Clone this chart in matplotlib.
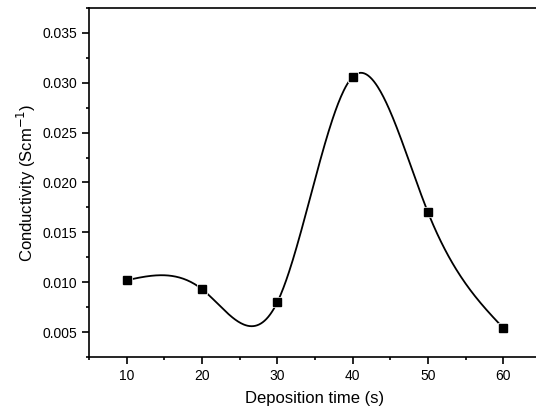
import numpy as np
import matplotlib
matplotlib.use('Agg')
import matplotlib.pyplot as plt
from matplotlib.ticker import MultipleLocator

plt.rcParams['font.family'] = ['Liberation Sans', 'DejaVu Sans']

# data
time_s = [10, 20, 30, 40, 50, 60]
conductivity = [0.0102, 0.0093, 0.0080, 0.0306, 0.0170, 0.0054]

# natural cubic spline through the points (Origin-style spline connection)
def natural_spline(x, y, xs):
  x = np.asarray(x, float)
  y = np.asarray(y, float)
  n = len(x)
  h = np.diff(x)
  A = np.zeros((n, n))
  b = np.zeros(n)
  A[0, 0] = 1
  A[-1, -1] = 1
  for i in range(1, n - 1):
    A[i, i - 1] = h[i - 1]
    A[i, i] = 2 * (h[i - 1] + h[i])
    A[i, i + 1] = h[i]
    b[i] = 3 * ((y[i + 1] - y[i]) / h[i] - (y[i] - y[i - 1]) / h[i - 1])
  c = np.linalg.solve(A, b)
  out = np.empty_like(xs)
  for k, xv in enumerate(xs):
    i = min(max(np.searchsorted(x, xv) - 1, 0), n - 2)
    dx = xv - x[i]
    bi = (y[i + 1] - y[i]) / h[i] - h[i] * (2 * c[i] + c[i + 1]) / 3
    di = (c[i + 1] - c[i]) / (3 * h[i])
    out[k] = y[i] + bi * dx + c[i] * dx ** 2 + di * dx ** 3
  return out

xs = np.linspace(time_s[0], time_s[-1], 400)
ys = natural_spline(time_s, conductivity, xs)

fig = plt.figure(figsize=(5.36, 4.12), dpi=100)
ax = fig.add_axes([89 / 536, 1 - 357 / 412, 452 / 536, 349 / 412])

ax.plot(xs, ys, color='black', lw=1.3, zorder=2)
ax.plot(time_s, conductivity, ls='none', marker='s', ms=6, mfc='black',
        mec='white', mew=2.0, zorder=3)
ax.plot(time_s, conductivity, ls='none', marker='s', ms=5.5, color='black', zorder=4)

ax.set_xlim(5, 65)
ax.set_ylim(0.0025, 0.0375)
ax.xaxis.set_major_locator(MultipleLocator(10))
ax.xaxis.set_minor_locator(MultipleLocator(5))
ax.yaxis.set_major_locator(MultipleLocator(0.005))
ax.yaxis.set_minor_locator(MultipleLocator(0.0025))
ax.yaxis.set_major_formatter(matplotlib.ticker.FormatStrFormatter('%.3f'))

ax.spines['right'].set_visible(False)
for s in ['left', 'bottom', 'top']:
  ax.spines[s].set_linewidth(1.2)
ax.tick_params(which='major', direction='out', length=5, width=1.2, labelsize=10)
ax.tick_params(which='minor', direction='out', length=2.5, width=1.2)
ax.tick_params(top=False, right=False)

ax.set_xlabel('Deposition time (s)', fontsize=12, labelpad=6)
ax.set_ylabel('Conductivity (Scm$^{-1}$)', fontsize=12, labelpad=3)

fig.savefig('out.png', dpi=100)
